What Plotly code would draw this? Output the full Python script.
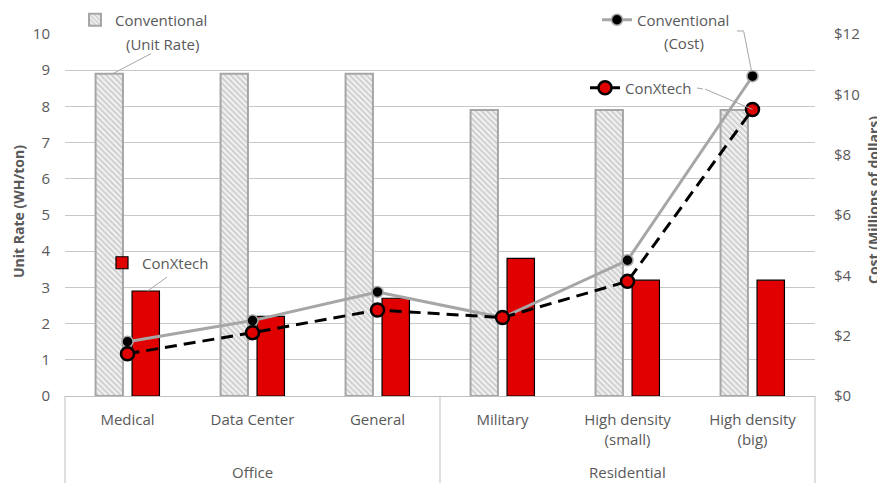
import plotly.graph_objects as go

# ---- data ----
categories = ["Medical", "Data Center", "General", "Military",
              "High density<br>(small)", "High density<br>(big)"]
groups = ["Office", "Residential"]
conv_rate = [8.9, 8.9, 8.9, 7.9, 7.9, 7.9]          # Unit Rate (WH/ton)
conx_rate = [2.9, 2.2, 2.7, 3.8, 3.2, 3.2]
conv_cost = [1.8, 2.5, 3.45, 2.6, 4.5, 10.6]        # Millions of dollars
conx_cost = [1.4, 2.1, 2.85, 2.6, 3.8, 9.5]
left_ticks = list(range(0, 11))
right_ticks = [0, 2, 4, 6, 8, 10, 12]
right_tick_text = ["$0", "$2", "$4", "$6", "$8", "$10", "$12"]

FONT = "Open Sans"
TXT = "#595959"
GRID = "#c8c8c8"
BOX = "#bfbfbf"
RED = "#e00000"
GRAY = "#a6a6a6"

OFF = 8                     # page body margin
W, H = 885 - OFF, 483 - OFF
# plot area in page pixels: x 65..815, y 34..396
ML = 65 - OFF
MT = 34 - OFF
MR = W - (815 - OFF)
MB = H - (396 - OFF)
PW, PH = W - ML - MR, H - MT - MB


def px_x(p):
    """page pixel x -> paper"""
    return (p - OFF - ML) / PW


def px_y(p):
    """page pixel y -> paper"""
    return (H - MB - (p - OFF)) / PH


fig = go.Figure()

fig.add_trace(go.Bar(
    x=categories, y=conv_rate, name="Conventional", legend="legend",
    marker=dict(color="#ededed", line=dict(color=GRAY, width=2),
                pattern=dict(shape="\\", fgcolor="#a3a3a3", bgcolor="#f2f2f2",
                             size=4, solidity=0.45)),
))
fig.add_trace(go.Bar(
    x=categories, y=conx_rate, name="ConXtech", legend="legend2",
    marker=dict(color=RED, line=dict(color="#000000", width=1.2)),
))
fig.add_trace(go.Scatter(
    x=categories, y=conv_cost, name="Conventional", yaxis="y2", legend="legend3",
    mode="lines+markers",
    line=dict(color=GRAY, width=3),
    marker=dict(color="#000000", size=11, line=dict(color=GRAY, width=1.5)),
    cliponaxis=False,
))
fig.add_trace(go.Scatter(
    x=categories, y=conx_cost, name="ConXtech", yaxis="y2", legend="legend4",
    mode="lines+markers",
    line=dict(color="#000000", width=3, dash="12px,7px"),
    marker=dict(color=RED, size=13, line=dict(color="#000000", width=2.5)),
    cliponaxis=False,
))

legend_common = dict(bgcolor="rgba(0,0,0,0)", borderwidth=0,
                     font=dict(family=FONT, size=15, color=TXT),
                     xanchor="left", yanchor="middle")

fig.update_layout(
    width=W, height=H,
    margin=dict(l=ML, r=MR, t=MT, b=MB, pad=0, autoexpand=False),
    paper_bgcolor="white", plot_bgcolor="white",
    font=dict(family=FONT, size=15, color=TXT),
    showlegend=True,
    barmode="group", bargap=0.416, bargroupgap=0.25,
    xaxis=dict(type="category", showgrid=False, showline=True, linecolor=BOX,
               linewidth=1, ticks="", ticklabelstandoff=10,
               tickfont=dict(family=FONT, size=15, color=TXT)),
    yaxis=dict(range=[0, 10], tickvals=left_ticks, showgrid=True, gridcolor=GRID,
               gridwidth=1, zeroline=False, showline=False, ticks="",
               ticklabelstandoff=14, tickfont=dict(family=FONT, size=15, color=TXT)),
    yaxis2=dict(range=[0, 12], tickvals=right_ticks, ticktext=right_tick_text,
                overlaying="y", side="right",
                showgrid=False, zeroline=False, showline=False, ticks="",
                ticklabelstandoff=18,
                tickfont=dict(family=FONT, size=15, color=TXT)),
    legend=dict(x=px_x(75), y=px_y(20), **legend_common),
    legend2=dict(x=px_x(102), y=px_y(263), **legend_common),
    legend3=dict(x=px_x(597), y=px_y(20), **legend_common),
    legend4=dict(x=px_x(585), y=px_y(88), **legend_common),
)

# category box lines (below the axis)
for xv in [0, 0.5, 1]:
    fig.add_shape(type="line", xref="paper", yref="paper", x0=xv, x1=xv,
                  y0=0, y1=-0.35, line=dict(color=BOX, width=1))

CENTER = dict(xanchor="center", yanchor="middle", showarrow=False)

# group labels
for i, g in enumerate(groups):
    fig.add_annotation(text=g, xref="paper", yref="paper", x=0.25 + 0.5 * i,
                       y=px_y(472), font=dict(family=FONT, size=15, color=TXT),
                       **CENTER)

# axis titles
fig.add_annotation(text="<b>Unit Rate (WH/ton)</b>", xref="paper", yref="paper",
                   x=px_x(18), y=px_y(212), textangle=-90,
                   font=dict(family=FONT, size=14, color=TXT), **CENTER)
fig.add_annotation(text="<b>Cost (Millions of dollars)</b>", xref="paper", yref="paper",
                   x=px_x(873), y=px_y(200), textangle=-90,
                   font=dict(family=FONT, size=14, color=TXT), **CENTER)

# second lines of legend labels
fig.add_annotation(text="(Unit Rate)", xref="paper", yref="paper",
                   x=px_x(162), y=px_y(44),
                   font=dict(family=FONT, size=15, color=TXT), **CENTER)
fig.add_annotation(text="(Cost)", xref="paper", yref="paper",
                   x=px_x(684), y=px_y(43),
                   font=dict(family=FONT, size=15, color=TXT), **CENTER)

# leader lines
LEAD = dict(showarrow=True, arrowhead=0, arrowwidth=1, arrowcolor=GRAY, text="")
fig.add_annotation(x=-0.12, y=conv_rate[0], xref="x", yref="y", ax=40, ay=-21, **LEAD)
fig.add_annotation(x=0.16, y=conx_rate[0], xref="x", yref="y", ax=21, ay=-15, **LEAD)
fig.add_annotation(x=5, y=conv_cost[5], xref="x", yref="y2", ax=-9, ay=-46,
                   standoff=5, **LEAD)
fig.add_annotation(x=5, y=conx_cost[5], xref="x", yref="y2", ax=-49, ay=-21, **LEAD)
fig.add_shape(type="line", xref="paper", yref="paper", x0=px_x(737), x1=px_x(744),
              y0=px_y(31), y1=px_y(31), line=dict(color=GRAY, width=1))
fig.add_shape(type="line", xref="paper", yref="paper", x0=px_x(697), x1=px_x(703),
              y0=px_y(88), y1=px_y(89), line=dict(color=GRAY, width=1))

fig.write_html("out.html")
